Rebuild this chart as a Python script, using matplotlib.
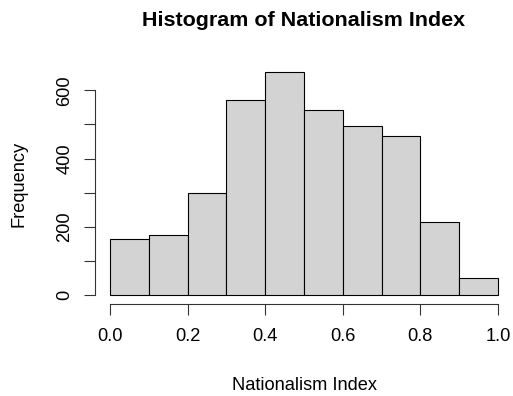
import matplotlib
matplotlib.use("Agg")
import matplotlib.pyplot as plt

plt.rcParams["font.family"] = ["Liberation Sans", "DejaVu Sans"]

# histogram counts per 0.1-wide bin of the index
bin_edges = [0.0, 0.1, 0.2, 0.3, 0.4, 0.5, 0.6, 0.7, 0.8, 0.9, 1.0]
counts = [165, 177, 298, 571, 653, 543, 496, 465, 215, 51]
x_ticks = [0.0, 0.2, 0.4, 0.6, 0.8, 1.0]
x_tick_labels = ["0.0", "0.2", "0.4", "0.6", "0.8", "1.0"]
y_ticks = [0, 100, 200, 300, 400, 500, 600]
y_tick_labels = ["0", "", "200", "", "400", "", "600"]

W, H, DPI = 513, 396, 100
fig = plt.figure(figsize=(W / DPI, H / DPI), dpi=DPI)

def px(v):
    return v * 72 / DPI

# plot region in pixels (left, top, right, bottom)
L, T, R, B = 94.5, 63.3, 513.5, 303.9
ax = fig.add_axes([L / W, 1 - B / H, (R - L) / W, (B - T) / H])

lefts = bin_edges[:-1]
widths = [b - a for a, b in zip(bin_edges[:-1], bin_edges[1:])]
ax.bar(lefts, counts, width=widths, align="edge", color="#d3d3d3",
       edgecolor="black", linewidth=px(1.1))

# R-style padding of 4% on both axes
xr = bin_edges[-1] - bin_edges[0]
ax.set_xlim(bin_edges[0] - 0.04 * xr, bin_edges[-1] + 0.04 * xr)
ymax = max(counts)
ax.set_ylim(-0.04 * ymax, 1.04 * ymax)

for s in ["top", "right"]:
    ax.spines[s].set_visible(False)
ax.spines["bottom"].set_bounds(x_ticks[0], x_ticks[-1])
ax.spines["left"].set_bounds(y_ticks[0], y_ticks[-1])
for s in ["bottom", "left"]:
    ax.spines[s].set_linewidth(px(1.1))
    ax.spines[s].set_color("#333333")

fs = px(18.25)
ax.set_xticks(x_ticks)
ax.set_xticklabels(x_tick_labels)
ax.set_yticks(y_ticks)
ax.set_yticklabels(y_tick_labels, rotation=90, va="center")
ax.tick_params(axis="both", length=px(11), width=px(1.1), color="#333333",
               labelsize=fs, labelcolor="black")
ax.tick_params(axis="x", pad=px(13))
ax.tick_params(axis="y", pad=px(10))

fig.text(304 / W, 1 - 26.5 / H, "Histogram of Nationalism Index",
         ha="center", va="baseline", fontsize=px(21.5), fontweight="bold")
fig.text(304 / W, 1 - 390 / H, "Nationalism Index",
         ha="center", va="baseline", fontsize=fs)
fig.text(19 / W, 1 - 184 / H, "Frequency", rotation=90,
         ha="center", va="center", fontsize=fs)

fig.savefig("out.png", dpi=DPI)
